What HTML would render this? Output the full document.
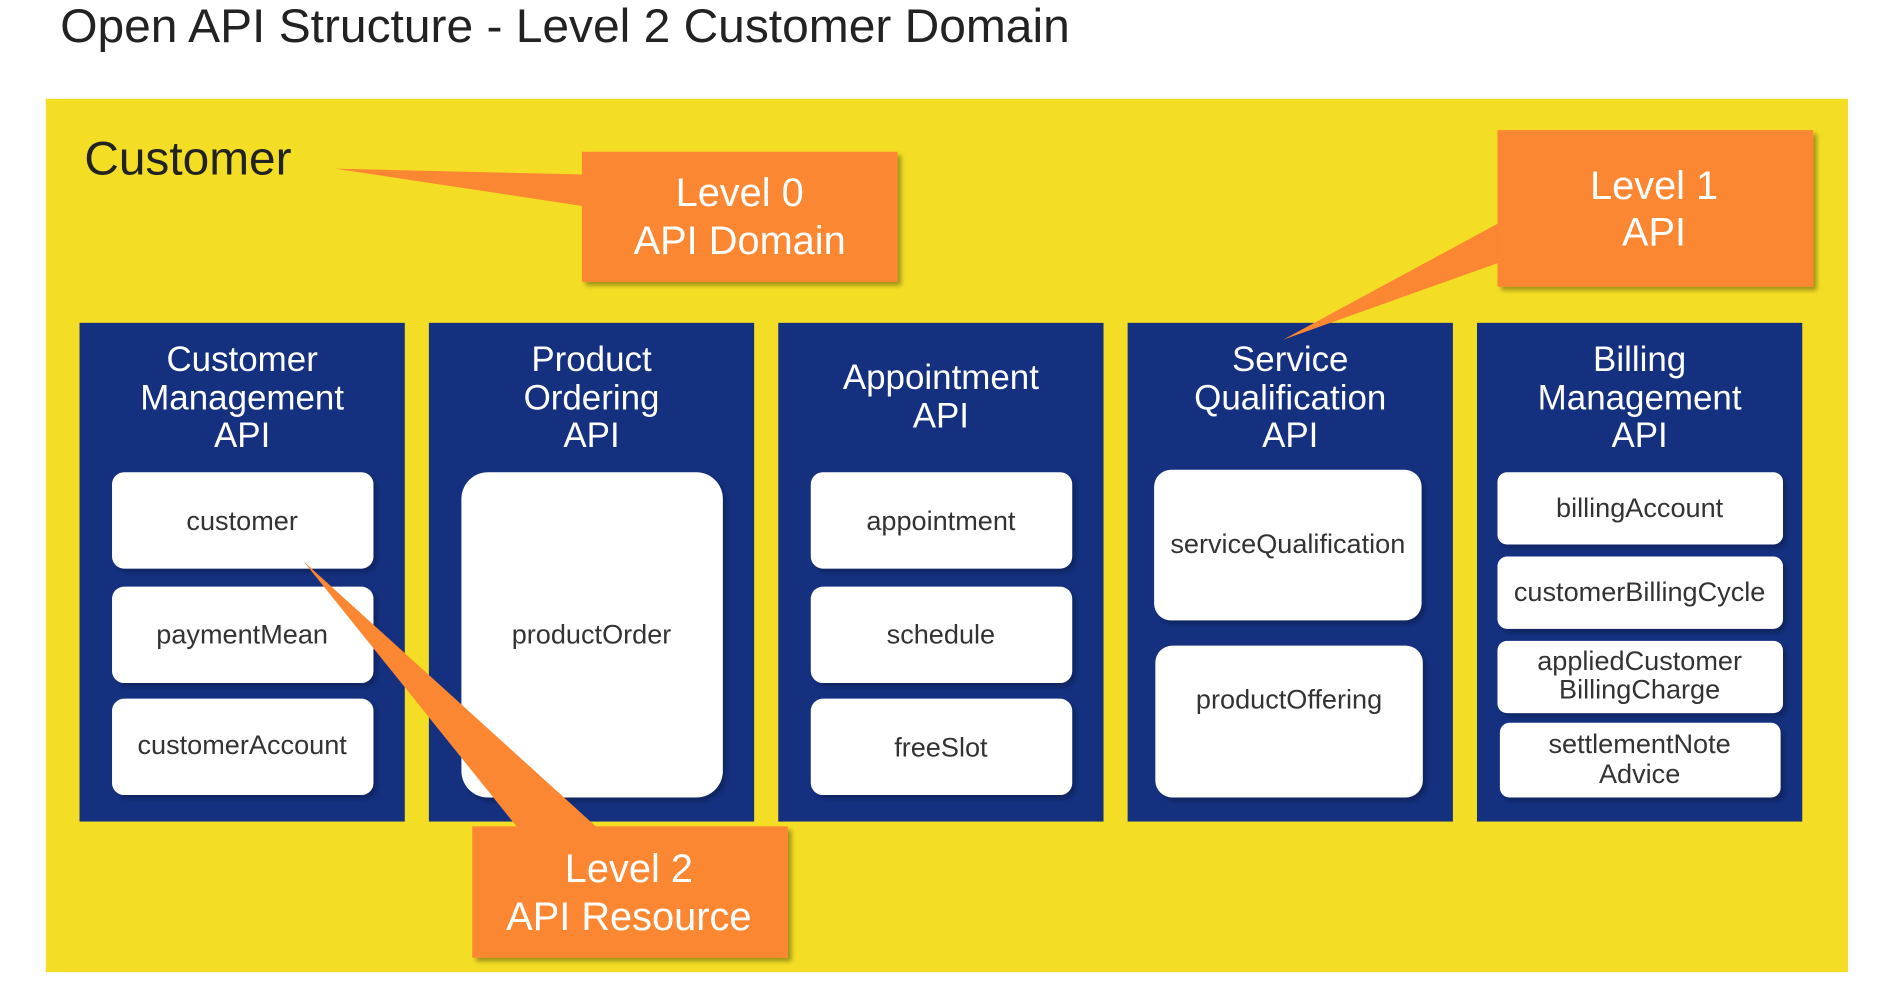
<!DOCTYPE html>
<html><head><meta charset="utf-8"><style>
html,body{margin:0;padding:0;background:#fff;}
svg{display:block;}
text{font-family:"Liberation Sans",sans-serif;}
</style></head><body>
<svg width="1889" height="989" viewBox="0 0 1568 821" preserveAspectRatio="none" xmlns="http://www.w3.org/2000/svg">
<defs>
<filter id="sh" x="-10%" y="-10%" width="130%" height="130%"><feDropShadow dx="3" dy="3" stdDeviation="2" flood-color="#000" flood-opacity="0.35"/></filter>
<filter id="sh2" x="-10%" y="-10%" width="130%" height="130%"><feDropShadow dx="3" dy="3" stdDeviation="2" flood-color="#000" flood-opacity="0.25"/></filter>
</defs>
<rect width="1568" height="821" fill="#fff"/>
<text x="50" y="35" font-size="39" fill="#222" textLength="838" lengthAdjust="spacingAndGlyphs">Open API Structure - Level 2 Customer Domain</text>
<rect x="38" y="82" width="1496" height="725" fill="#f4de25"/>
<text x="70" y="145" font-size="39" fill="#222" textLength="172" lengthAdjust="spacingAndGlyphs">Customer</text>

<g fill="#14307f">
<rect x="66" y="268" width="270" height="414"/>
<rect x="356" y="268" width="270" height="414"/>
<rect x="646" y="268" width="270" height="414"/>
<rect x="936" y="268" width="270" height="414"/>
<rect x="1226" y="268" width="270" height="414"/>
</g>
<g fill="#fff" font-size="29" text-anchor="middle">
<text x="201" y="308">Customer</text><text x="201" y="340">Management</text><text x="201" y="371">API</text>
<text x="491" y="308">Product</text><text x="491" y="340">Ordering</text><text x="491" y="371">API</text>
<text x="781" y="323">Appointment</text><text x="781" y="355">API</text>
<text x="1071" y="308">Service</text><text x="1071" y="340">Qualification</text><text x="1071" y="371">API</text>
<text x="1361" y="308">Billing</text><text x="1361" y="340">Management</text><text x="1361" y="371">API</text>
</g>
<g fill="#fff" filter="url(#sh2)">
<rect x="93" y="392" width="217" height="80" rx="10"/>
<rect x="93" y="487" width="217" height="80" rx="10"/>
<rect x="93" y="580" width="217" height="80" rx="10"/>
<rect x="383" y="392" width="217" height="270" rx="22"/>
<rect x="673" y="392" width="217" height="80" rx="10"/>
<rect x="673" y="487" width="217" height="80" rx="10"/>
<rect x="673" y="580" width="217" height="80" rx="10"/>
<rect x="958" y="390" width="222" height="125" rx="14"/>
<rect x="959" y="536" width="222" height="126" rx="14"/>
<rect x="1243" y="392" width="237" height="60" rx="8"/>
<rect x="1243" y="462" width="237" height="60" rx="8"/>
<rect x="1243" y="532" width="237" height="60" rx="8"/>
<rect x="1245" y="600" width="233" height="62" rx="8"/>
</g>
<g fill="#333" font-size="22.5" text-anchor="middle">
<text x="201" y="440">customer</text>
<text x="201" y="534">paymentMean</text>
<text x="201" y="626">customerAccount</text>
<text x="491" y="534">productOrder</text>
<text x="781" y="440">appointment</text>
<text x="781" y="534">schedule</text>
<text x="781" y="628">freeSlot</text>
<text x="1069" y="459">serviceQualification</text>
<text x="1070" y="588">productOffering</text>
<text x="1361" y="429">billingAccount</text>
<text x="1361" y="499">customerBillingCycle</text>
<text x="1361" y="556">appliedCustomer</text>
<text x="1361" y="580">BillingCharge</text>
<text x="1361" y="625">settlementNote</text>
<text x="1361" y="650">Advice</text>
</g>

<g fill="#fb8733">
<polygon points="278,140 490,145 490,172"/>
<polygon points="1065,282 1250,182 1250,216"/>
<polygon points="252,466 432,690 499,690"/>
<rect x="483" y="126" width="262" height="108" filter="url(#sh)"/>
<rect x="1243" y="108" width="262" height="130" filter="url(#sh)"/>
<rect x="392" y="686" width="262" height="109" filter="url(#sh)"/>
</g>
<g fill="#fff" font-size="33" text-anchor="middle">
<text x="614" y="171">Level 0</text><text x="614" y="211">API Domain</text>
<text x="1373" y="165">Level 1</text><text x="1373" y="204">API</text>
<text x="522" y="732">Level 2</text><text x="522" y="772">API Resource</text>
</g>
</svg>
</body></html>
